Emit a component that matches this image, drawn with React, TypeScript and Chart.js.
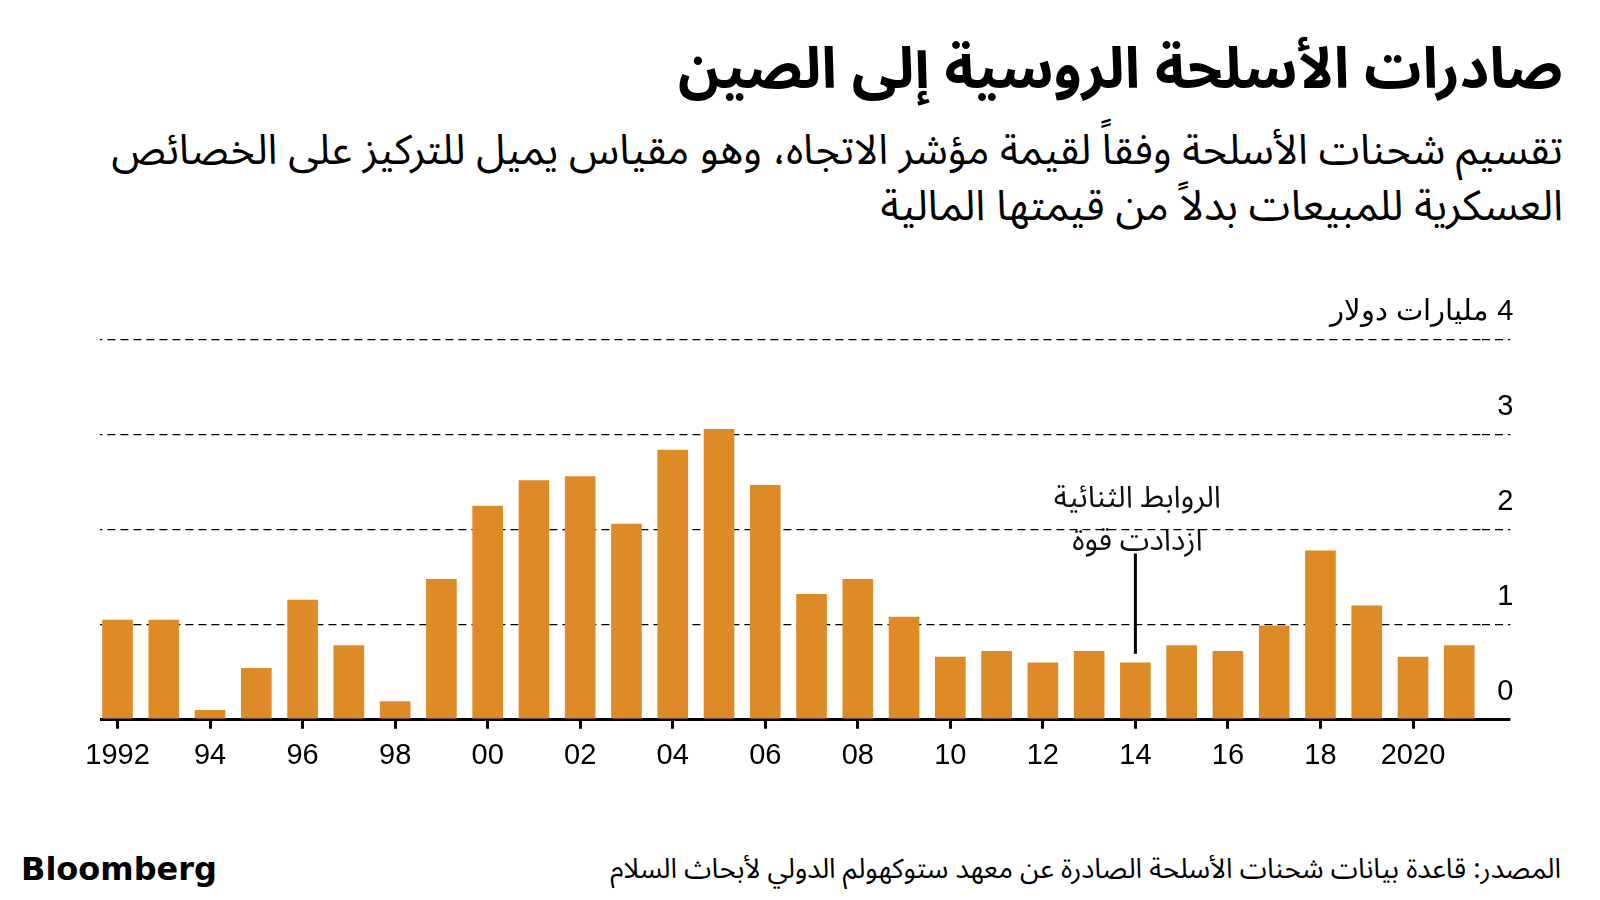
import React, { useEffect, useRef } from "react";
import { Chart, registerables } from "chart.js";

Chart.register(...registerables);

// ---- Data ----
const years = [
  "1992", "1993", "1994", "1995", "1996", "1997", "1998", "1999", "2000", "2001",
  "2002", "2003", "2004", "2005", "2006", "2007", "2008", "2009", "2010", "2011",
  "2012", "2013", "2014", "2015", "2016", "2017", "2018", "2019", "2020", "2021",
];
const exportsBn = [
  1.05, 1.05, 0.1, 0.54, 1.26, 0.78, 0.19, 1.48, 2.25, 2.52,
  2.56, 2.06, 2.84, 3.06, 2.47, 1.32, 1.48, 1.08, 0.66, 0.72,
  0.6, 0.72, 0.6, 0.78, 0.72, 0.99, 1.78, 1.2, 0.66, 0.78,
];
const xTickLabels = [
  "1992", "", "94", "", "96", "", "98", "", "00", "",
  "02", "", "04", "", "06", "", "08", "", "10", "",
  "12", "", "14", "", "16", "", "18", "", "2020", "",
];
const yTickLabels = ["0", "1", "2", "3", "4 مليارات دولار"];

const titleText = "صادرات الأسلحة الروسية إلى الصين";
const subtitleLines = [
  "تقسيم شحنات الأسلحة وفقاً لقيمة مؤشر الاتجاه، وهو مقياس يميل للتركيز على الخصائص",
  "العسكرية للمبيعات بدلاً من قيمتها المالية",
];
const sourceText = "المصدر: قاعدة بيانات شحنات الأسلحة الصادرة عن معهد ستوكهولم الدولي لأبحاث السلام";

const annotationYear = "2014";
const annotationLines = ["الروابط الثنائية", "ازدادت قوة"];
const annotationTextValues = [2.29, 1.84];
const annotationLineTopValue = 1.75;

const BAR_COLOR = "#DE8B27";
const ARABIC_FONT = "'Noto Sans Arabic', 'DejaVu Sans', sans-serif";
const NUM_FONT = "'Liberation Sans', Arial, sans-serif";
const GRID_START_X = 100;

// Rules start a little right of the plot edge, as in the original.
const leftTrimPlugin = {
  id: "leftTrim",
  beforeDraw(chart: any) {
    const { ctx, chartArea } = chart;
    ctx.save();
    ctx.beginPath();
    ctx.rect(0, 0, chart.width, chart.height);
    ctx.rect(0, chartArea.top - 4, GRID_START_X, chartArea.bottom - chartArea.top + 8);
    ctx.clip("evenodd");
  },
  afterDraw(chart: any) {
    chart.ctx.restore();
  },
};

const annotationPlugin = {
  id: "barNote",
  afterDatasetsDraw(chart: any) {
    const { ctx } = chart;
    const x = chart.scales.x;
    const y = chart.scales.y;
    const i = years.indexOf(annotationYear);
    const px = x.getPixelForValue(i);
    const barTop = y.getPixelForValue(exportsBn[i]);
    ctx.save();
    ctx.strokeStyle = "#000";
    ctx.lineWidth = 3;
    ctx.beginPath();
    ctx.moveTo(px, barTop - 9);
    ctx.lineTo(px, y.getPixelForValue(annotationLineTopValue));
    ctx.stroke();
    ctx.fillStyle = "#111";
    ctx.font = `30px ${ARABIC_FONT}`;
    ctx.textAlign = "center";
    ctx.textBaseline = "middle";
    annotationLines.forEach((t, k) => {
      ctx.fillText(t, px + 2, y.getPixelForValue(annotationTextValues[k]));
    });
    ctx.restore();
  },
};

function BarChart() {
  const ref = useRef<HTMLCanvasElement | null>(null);
  useEffect(() => {
    if (!ref.current) return;
    const dash = [8, 5];
    const chart = new Chart(ref.current, {
      type: "bar",
      data: {
        labels: years,
        datasets: [
          {
            data: exportsBn,
            backgroundColor: BAR_COLOR,
            barThickness: 30,
            borderWidth: 0,
          },
        ],
      },
      options: {
        animation: false,
        responsive: false,
        maintainAspectRatio: false,
        layout: {
          padding: { left: 94.4, right: 27.6, top: 80, bottom: 16.5 },
        },
        plugins: {
          legend: { display: false },
          tooltip: { enabled: false },
        },
        scales: {
          x: {
            type: "category",
            offset: true,
            border: { display: false },
            grid: {
              offset: false,
              drawOnChartArea: false,
              drawTicks: true,
              tickLength: 9,
              tickWidth: 3,
              tickColor: (c: any) => (xTickLabels[c.index] ? "#000" : "rgba(0,0,0,0)"),
            },
            ticks: {
              autoSkip: false,
              maxRotation: 0,
              minRotation: 0,
              padding: 10,
              color: "#000",
              font: { family: NUM_FONT, size: 29 },
              callback: (_v: any, idx: number) => xTickLabels[idx],
            },
          },
          y: {
            position: "right",
            min: 0,
            max: 4,
            border: {
              display: false,
              dash: (c: any) => (c.tick && c.tick.value === 0 ? [] : dash),
            },
            grid: {
              color: "#000",
              lineWidth: (c: any) => (c.tick && c.tick.value === 0 ? 3 : 1.3),
              drawTicks: true,
              tickLength: 28,
              tickColor: "#000",
              tickWidth: (c: any) => (c.tick && c.tick.value === 0 ? 3 : 1.3),
              tickBorderDash: (c: any) => (c.tick && c.tick.value === 0 ? [] : dash),
            },
            ticks: {
              stepSize: 1,
              mirror: true,
              padding: 31,
              labelOffset: -28,
              color: "#000",
              font: { family: NUM_FONT, size: 29 },
              callback: (v: any) => yTickLabels[Math.round(Number(v))],
            },
          },
        },
      },
      plugins: [leftTrimPlugin, annotationPlugin],
    } as any);
    return () => chart.destroy();
  }, []);
  return <canvas ref={ref} width={1600} height={540} dir="rtl" style={{ display: "block" }} />;
}

export default function App() {
  const abs = (top: number, h: number): React.CSSProperties => ({
    position: "absolute",
    top: top - h / 2,
    height: h,
    lineHeight: `${h}px`,
    right: 37,
    whiteSpace: "nowrap",
    direction: "rtl",
    textAlign: "right",
    color: "#000",
    fontFamily: ARABIC_FONT,
  });
  return (
    <div
      style={{
        position: "absolute",
        left: 0,
        top: 0,
        width: 1600,
        height: 900,
        background: "#fff",
        overflow: "hidden",
      }}
    >
      <div style={{ ...abs(70, 80), fontSize: 57, fontWeight: 700 }}>{titleText}</div>
      <div style={{ ...abs(151, 56), fontSize: 41.5 }}>{subtitleLines[0]}</div>
      <div style={{ ...abs(207, 56), fontSize: 42.2 }}>{subtitleLines[1]}</div>
      <div style={{ position: "absolute", left: 0, top: 260, width: 1600, height: 540 }}>
        <BarChart />
      </div>
      <div style={{ ...abs(869, 40), right: 39, fontSize: 27.5 }}>{sourceText}</div>
      <div
        style={{
          position: "absolute",
          left: 21,
          top: 849,
          height: 40,
          lineHeight: "40px",
          fontFamily: "'DejaVu Sans', sans-serif",
          fontWeight: 700,
          fontSize: 32,
          color: "#000",
        }}
      >
        Bloomberg
      </div>
    </div>
  );
}
